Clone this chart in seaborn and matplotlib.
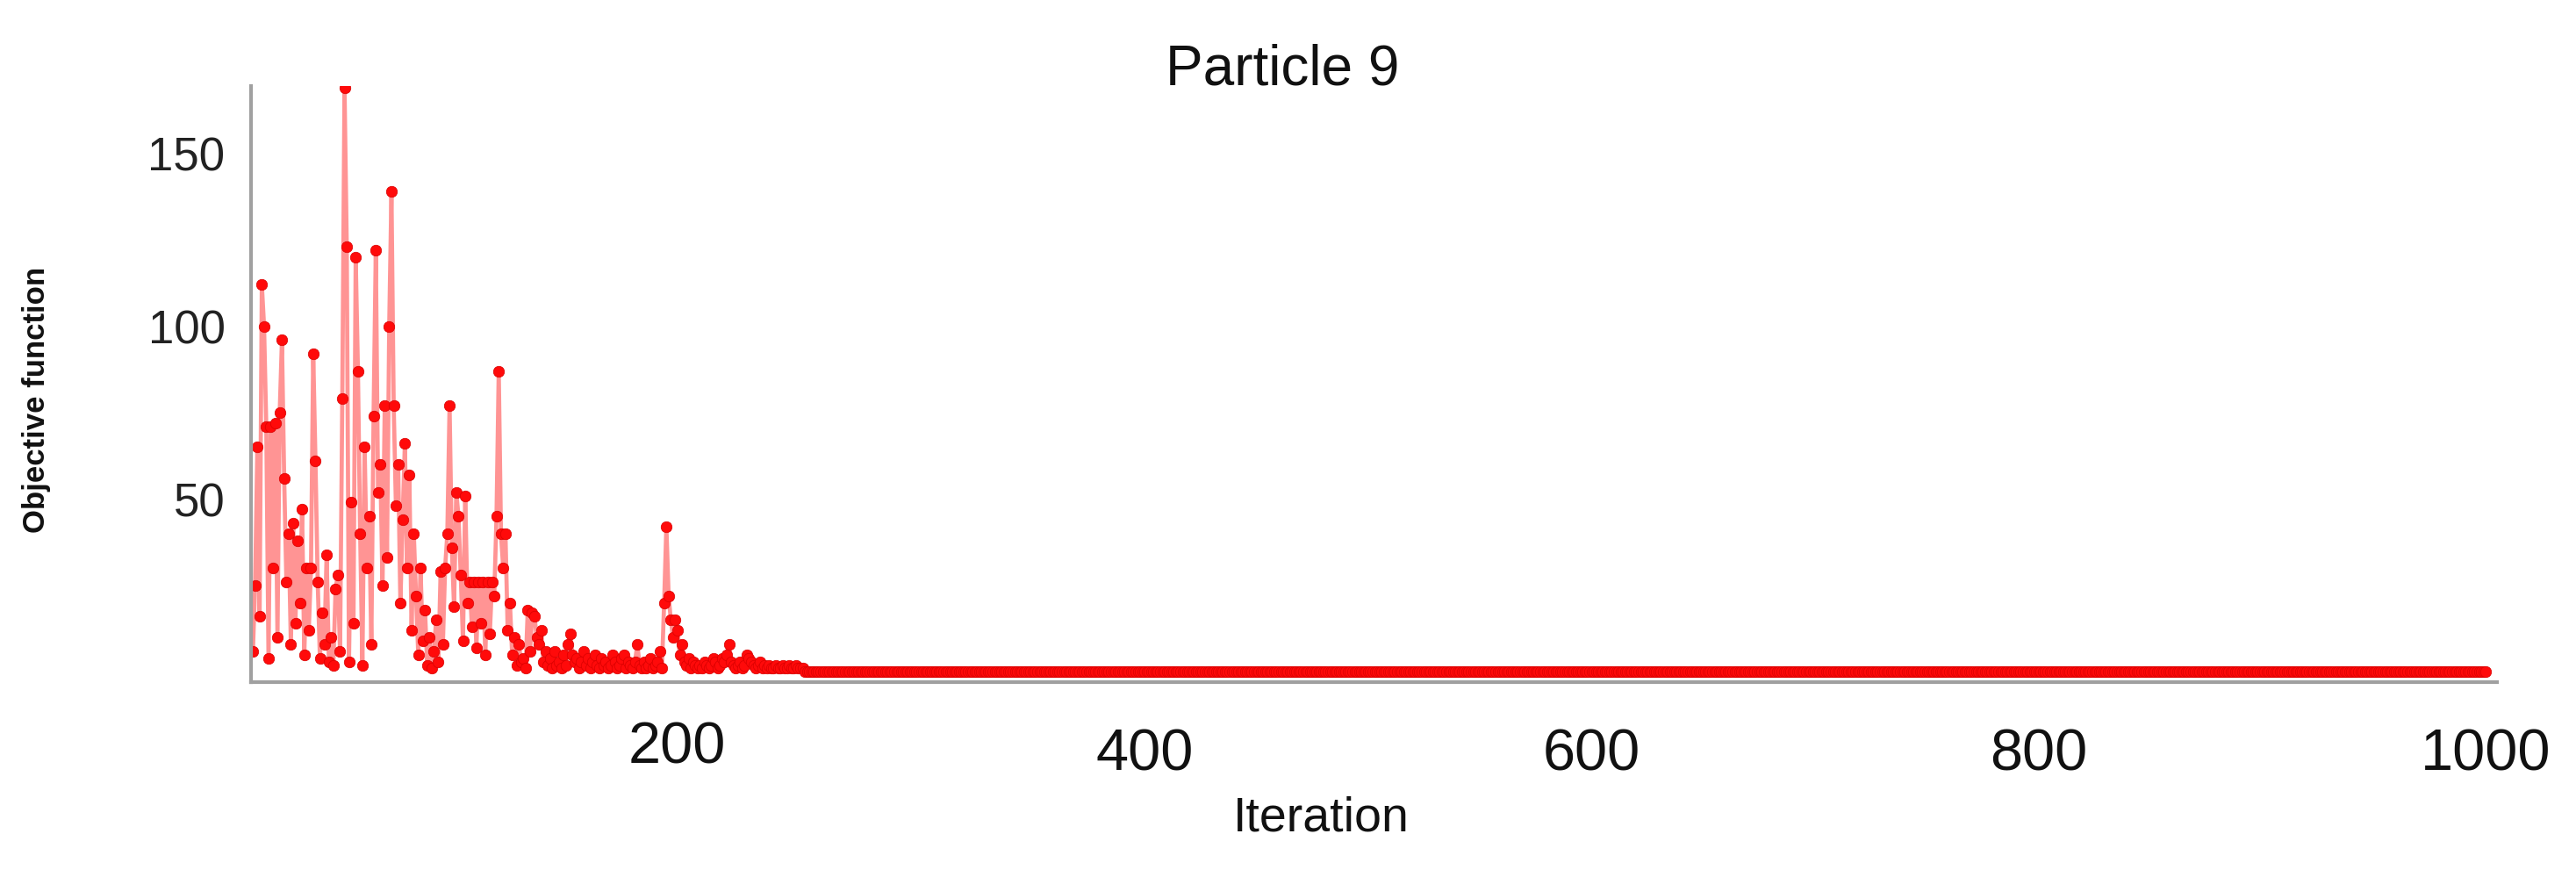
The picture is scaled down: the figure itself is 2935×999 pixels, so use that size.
import numpy as np
import pandas as pd
import matplotlib
matplotlib.use("Agg")
import matplotlib.pyplot as plt
import matplotlib.transforms as mtransforms
import seaborn as sns

# objective value per iteration (iterations 1..250)
early_values = [
    6, 25, 65, 16, 112, 100, 71, 4, 71, 30,
    72, 10, 75, 96, 56, 26, 40, 8, 43, 14,
    38, 20, 47, 5, 30, 12, 30, 92, 61, 26,
    4, 17, 8, 34, 3, 10, 2, 24, 28, 6,
    79, 169, 123, 3, 49, 14, 120, 87, 40, 2,
    65, 30, 45, 8, 74, 122, 52, 60, 25, 77,
    33, 100, 139, 77, 48, 60, 20, 44, 66, 30,
    57, 12, 40, 22, 5, 30, 9, 18, 2, 10,
    1, 6, 15, 3, 29, 8, 30, 40, 77, 36,
    19, 52, 45, 28, 9, 51, 20, 26, 13, 26,
    7, 26, 14, 26, 5, 26, 11, 26, 22, 45,
    87, 40, 30, 40, 12, 20, 5, 10, 2, 8,
    3, 4, 1, 18, 6, 17, 16, 10, 8, 12,
    3, 6, 2, 4, 1, 6, 2, 3, 1, 5,
    2, 8, 11, 5, 3, 4, 1, 3, 6, 2,
    4, 1, 3, 5, 2, 1, 4, 2, 3, 1,
    2, 5, 3, 1, 2, 4, 5, 1, 3, 2,
    1, 3, 8, 2, 1, 3, 1, 2, 4, 1,
    2, 3, 6, 1, 20, 42, 22, 15, 10, 15,
    12, 5, 8, 3, 2, 4, 1, 3, 2, 1,
    2, 1, 3, 2, 1, 2, 4, 3, 1, 2,
    4, 3, 5, 8, 3, 2, 1, 2, 3, 1,
    2, 5, 4, 3, 2, 1, 2, 3, 1, 2,
    1, 2, 1, 1, 2, 1, 1, 2, 1, 1,
    2, 1, 1, 2, 1, 1, 1, 0, 0, 0,
]
# after convergence the value stays at ~0 until iteration 1000
n_iterations = 1000
settled_value = 0.0
settled_values = [settled_value] * (n_iterations - len(early_values))

x_ticks = [200, 400, 600, 800, 1000]
y_ticks = [50, 100, 150]

df = pd.DataFrame({
    "iteration": np.arange(1, n_iterations + 1),
    "objective": early_values + settled_values,
})

sns.set_style("white")
plt.rcParams["font.family"] = ["Liberation Sans", "DejaVu Sans"]

fig = plt.figure(figsize=(29.35, 9.99), dpi=100)
ax = fig.add_axes([0.0973, 0.222, 0.872, 0.680])

sns.lineplot(data=df, x="iteration", y="objective", ax=ax,
             color="#ff9494", linewidth=3.4, marker="o", markersize=9,
             markerfacecolor="#ff0a0a", markeredgecolor="#d80000",
             markeredgewidth=0.5)

ax.set_xlim(0, 1005)
ax.set_ylim(-3, 169.5)
ax.set_xticks(x_ticks)
ax.set_yticks(y_ticks)
ax.set_xticklabels([str(t) for t in x_ticks], fontsize=48, color="#111111")
ax.set_yticklabels([str(t) for t in y_ticks], fontsize=38, color="#222222")
ax.tick_params(axis="x", direction="in", length=14, width=1.2,
               color="#aaaaaa", pad=38)
ax.tick_params(axis="y", direction="in", length=18, width=1.2,
               color="#999999", pad=21)

# the first x label sits a little left and higher in the original
first = ax.get_xticklabels()[0]
first.set_transform(mtransforms.offset_copy(first.get_transform(), fig=fig,
                                            x=-24, y=8, units="dots"))

for side in ["top", "right"]:
    ax.spines[side].set_visible(False)
for side in ["left", "bottom"]:
    ax.spines[side].set_color("#a0a0a0")
    ax.spines[side].set_linewidth(3)

ax.set_xlabel("")
ax.set_ylabel("Objective function", fontsize=25, fontweight="bold",
              color="#111111")
ax.yaxis.set_label_coords(-0.089, 0.474)

fig.text(0.513, 0.067, "Iteration", fontsize=40, ha="center", va="center",
         color="#111111")
fig.text(0.498, 0.92, "Particle 9", fontsize=46, ha="center", va="center",
         color="#111111")

fig.savefig("out.png", dpi=100, facecolor="white")
